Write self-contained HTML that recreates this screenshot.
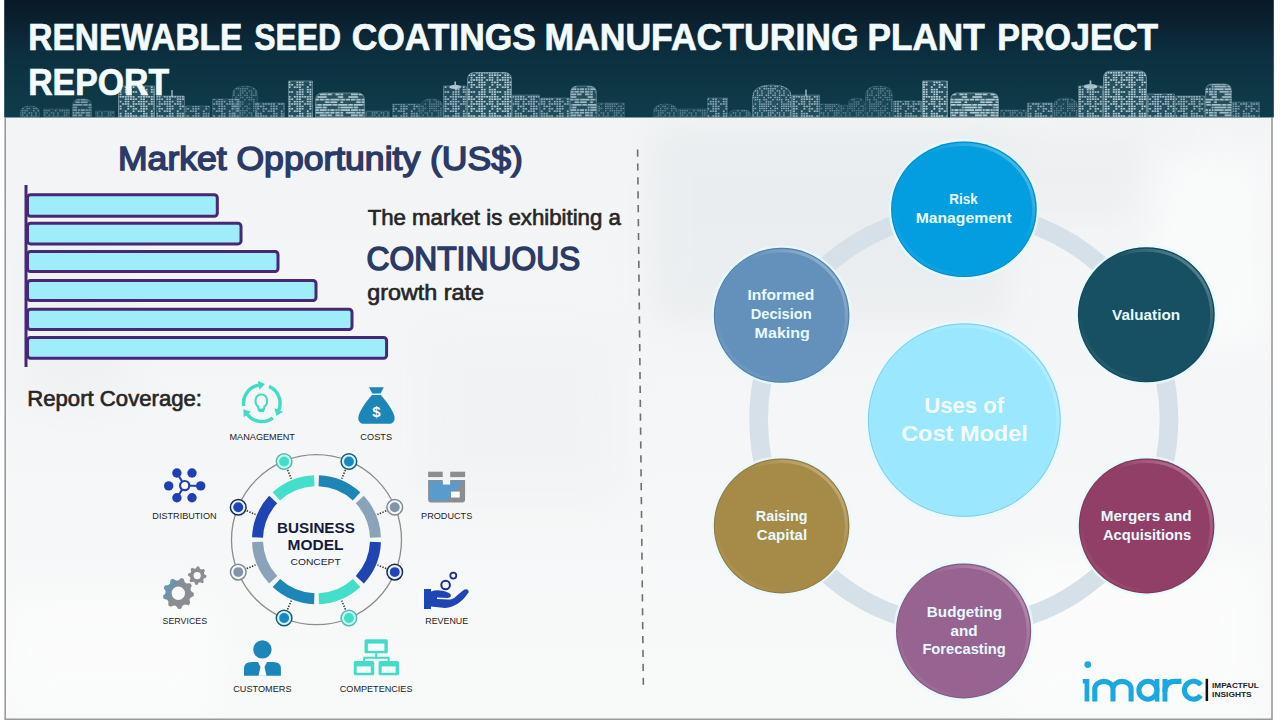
<!DOCTYPE html>
<html><head><meta charset="utf-8"><title>Renewable Seed Coatings Manufacturing Plant Project Report</title>
<style>
html,body{margin:0;padding:0;width:1280px;height:720px;overflow:hidden;background:#fff;}
svg{display:block;font-family:"Liberation Sans",sans-serif;}
</style></head><body>
<svg width="1280" height="720" viewBox="0 0 1280 720">
<defs>
<linearGradient id="hdr" x1="0" y1="0" x2="0" y2="1">
<stop offset="0" stop-color="#0a1826"/><stop offset="0.25" stop-color="#0b2434"/><stop offset="0.45" stop-color="#0c2f3f"/><stop offset="0.7" stop-color="#0d3644"/><stop offset="1" stop-color="#0f3c4a"/>
</linearGradient>
<pattern id="pA" width="26.00" height="24.00" patternUnits="userSpaceOnUse"><rect x="0.00" y="0.00" width="1.90" height="1.60" fill="#cfe2ea"/><rect x="2.60" y="0.00" width="1.90" height="1.60" fill="#cfe2ea"/><rect x="7.80" y="0.00" width="1.90" height="1.60" fill="#cfe2ea"/><rect x="10.40" y="0.00" width="1.90" height="1.60" fill="#cfe2ea"/><rect x="13.00" y="0.00" width="1.90" height="1.60" fill="#cfe2ea"/><rect x="15.60" y="0.00" width="1.90" height="1.60" fill="#cfe2ea"/><rect x="18.20" y="0.00" width="1.90" height="1.60" fill="#cfe2ea"/><rect x="20.80" y="0.00" width="1.90" height="1.60" fill="#cfe2ea"/><rect x="23.40" y="0.00" width="1.90" height="1.60" fill="#cfe2ea"/><rect x="0.00" y="2.40" width="1.90" height="1.60" fill="#cfe2ea"/><rect x="2.60" y="2.40" width="1.90" height="1.60" fill="#cfe2ea"/><rect x="5.20" y="2.40" width="1.90" height="1.60" fill="#cfe2ea"/><rect x="10.40" y="2.40" width="1.90" height="1.60" fill="#cfe2ea"/><rect x="13.00" y="2.40" width="1.90" height="1.60" fill="#cfe2ea"/><rect x="20.80" y="2.40" width="1.90" height="1.60" fill="#cfe2ea"/><rect x="23.40" y="2.40" width="1.90" height="1.60" fill="#cfe2ea"/><rect x="2.60" y="4.80" width="1.90" height="1.60" fill="#cfe2ea"/><rect x="7.80" y="4.80" width="1.90" height="1.60" fill="#cfe2ea"/><rect x="10.40" y="4.80" width="1.90" height="1.60" fill="#cfe2ea"/><rect x="13.00" y="4.80" width="1.90" height="1.60" fill="#cfe2ea"/><rect x="15.60" y="4.80" width="1.90" height="1.60" fill="#cfe2ea"/><rect x="20.80" y="4.80" width="1.90" height="1.60" fill="#cfe2ea"/><rect x="23.40" y="4.80" width="1.90" height="1.60" fill="#cfe2ea"/><rect x="2.60" y="7.20" width="1.90" height="1.60" fill="#cfe2ea"/><rect x="5.20" y="7.20" width="1.90" height="1.60" fill="#cfe2ea"/><rect x="7.80" y="7.20" width="1.90" height="1.60" fill="#cfe2ea"/><rect x="10.40" y="7.20" width="1.90" height="1.60" fill="#cfe2ea"/><rect x="13.00" y="7.20" width="1.90" height="1.60" fill="#cfe2ea"/><rect x="18.20" y="7.20" width="1.90" height="1.60" fill="#cfe2ea"/><rect x="20.80" y="7.20" width="1.90" height="1.60" fill="#cfe2ea"/><rect x="23.40" y="7.20" width="1.90" height="1.60" fill="#cfe2ea"/><rect x="0.00" y="9.60" width="1.90" height="1.60" fill="#cfe2ea"/><rect x="2.60" y="9.60" width="1.90" height="1.60" fill="#cfe2ea"/><rect x="10.40" y="9.60" width="1.90" height="1.60" fill="#cfe2ea"/><rect x="13.00" y="9.60" width="1.90" height="1.60" fill="#cfe2ea"/><rect x="15.60" y="9.60" width="1.90" height="1.60" fill="#cfe2ea"/><rect x="23.40" y="9.60" width="1.90" height="1.60" fill="#cfe2ea"/><rect x="2.60" y="12.00" width="1.90" height="1.60" fill="#cfe2ea"/><rect x="5.20" y="12.00" width="1.90" height="1.60" fill="#cfe2ea"/><rect x="10.40" y="12.00" width="1.90" height="1.60" fill="#cfe2ea"/><rect x="13.00" y="12.00" width="1.90" height="1.60" fill="#cfe2ea"/><rect x="15.60" y="12.00" width="1.90" height="1.60" fill="#cfe2ea"/><rect x="23.40" y="12.00" width="1.90" height="1.60" fill="#cfe2ea"/><rect x="2.60" y="14.40" width="1.90" height="1.60" fill="#cfe2ea"/><rect x="7.80" y="14.40" width="1.90" height="1.60" fill="#cfe2ea"/><rect x="10.40" y="14.40" width="1.90" height="1.60" fill="#cfe2ea"/><rect x="13.00" y="14.40" width="1.90" height="1.60" fill="#cfe2ea"/><rect x="20.80" y="14.40" width="1.90" height="1.60" fill="#cfe2ea"/><rect x="0.00" y="16.80" width="1.90" height="1.60" fill="#cfe2ea"/><rect x="13.00" y="16.80" width="1.90" height="1.60" fill="#cfe2ea"/><rect x="15.60" y="16.80" width="1.90" height="1.60" fill="#cfe2ea"/><rect x="20.80" y="16.80" width="1.90" height="1.60" fill="#cfe2ea"/><rect x="23.40" y="16.80" width="1.90" height="1.60" fill="#cfe2ea"/><rect x="0.00" y="19.20" width="1.90" height="1.60" fill="#cfe2ea"/><rect x="2.60" y="19.20" width="1.90" height="1.60" fill="#cfe2ea"/><rect x="5.20" y="19.20" width="1.90" height="1.60" fill="#cfe2ea"/><rect x="10.40" y="19.20" width="1.90" height="1.60" fill="#cfe2ea"/><rect x="13.00" y="19.20" width="1.90" height="1.60" fill="#cfe2ea"/><rect x="15.60" y="19.20" width="1.90" height="1.60" fill="#cfe2ea"/><rect x="20.80" y="19.20" width="1.90" height="1.60" fill="#cfe2ea"/><rect x="23.40" y="19.20" width="1.90" height="1.60" fill="#cfe2ea"/><rect x="0.00" y="21.60" width="1.90" height="1.60" fill="#cfe2ea"/><rect x="10.40" y="21.60" width="1.90" height="1.60" fill="#cfe2ea"/><rect x="13.00" y="21.60" width="1.90" height="1.60" fill="#cfe2ea"/><rect x="15.60" y="21.60" width="1.90" height="1.60" fill="#cfe2ea"/><rect x="23.40" y="21.60" width="1.90" height="1.60" fill="#cfe2ea"/></pattern><pattern id="pB" width="31.20" height="20.80" patternUnits="userSpaceOnUse"><rect x="0.00" y="0.00" width="4.40" height="1.70" fill="#cfe2ea"/><rect x="5.20" y="0.00" width="4.40" height="1.70" fill="#cfe2ea"/><rect x="10.40" y="0.00" width="9.60" height="1.70" fill="#cfe2ea"/><rect x="20.80" y="0.00" width="4.40" height="1.70" fill="#cfe2ea"/><rect x="26.00" y="0.00" width="7.00" height="1.70" fill="#cfe2ea"/><rect x="0.00" y="2.60" width="9.60" height="1.70" fill="#cfe2ea"/><rect x="10.40" y="2.60" width="4.40" height="1.70" fill="#cfe2ea"/><rect x="26.00" y="2.60" width="1.80" height="1.70" fill="#cfe2ea"/><rect x="28.60" y="2.60" width="9.60" height="1.70" fill="#cfe2ea"/><rect x="0.00" y="5.20" width="7.00" height="1.70" fill="#cfe2ea"/><rect x="7.80" y="5.20" width="7.00" height="1.70" fill="#cfe2ea"/><rect x="15.60" y="5.20" width="1.80" height="1.70" fill="#cfe2ea"/><rect x="18.20" y="5.20" width="4.40" height="1.70" fill="#cfe2ea"/><rect x="23.40" y="5.20" width="1.80" height="1.70" fill="#cfe2ea"/><rect x="26.00" y="5.20" width="1.80" height="1.70" fill="#cfe2ea"/><rect x="28.60" y="5.20" width="9.60" height="1.70" fill="#cfe2ea"/><rect x="2.60" y="7.80" width="9.60" height="1.70" fill="#cfe2ea"/><rect x="13.00" y="7.80" width="4.40" height="1.70" fill="#cfe2ea"/><rect x="18.20" y="7.80" width="4.40" height="1.70" fill="#cfe2ea"/><rect x="23.40" y="7.80" width="4.40" height="1.70" fill="#cfe2ea"/><rect x="28.60" y="7.80" width="7.00" height="1.70" fill="#cfe2ea"/><rect x="7.80" y="10.40" width="7.00" height="1.70" fill="#cfe2ea"/><rect x="15.60" y="10.40" width="4.40" height="1.70" fill="#cfe2ea"/><rect x="23.40" y="10.40" width="4.40" height="1.70" fill="#cfe2ea"/><rect x="28.60" y="10.40" width="4.40" height="1.70" fill="#cfe2ea"/><rect x="5.20" y="13.00" width="9.60" height="1.70" fill="#cfe2ea"/><rect x="26.00" y="13.00" width="9.60" height="1.70" fill="#cfe2ea"/><rect x="0.00" y="15.60" width="1.80" height="1.70" fill="#cfe2ea"/><rect x="2.60" y="15.60" width="4.40" height="1.70" fill="#cfe2ea"/><rect x="7.80" y="15.60" width="4.40" height="1.70" fill="#cfe2ea"/><rect x="13.00" y="15.60" width="4.40" height="1.70" fill="#cfe2ea"/><rect x="18.20" y="15.60" width="9.60" height="1.70" fill="#cfe2ea"/><rect x="28.60" y="15.60" width="4.40" height="1.70" fill="#cfe2ea"/><rect x="13.00" y="18.20" width="4.40" height="1.70" fill="#cfe2ea"/><rect x="18.20" y="18.20" width="7.00" height="1.70" fill="#cfe2ea"/><rect x="28.60" y="18.20" width="4.40" height="1.70" fill="#cfe2ea"/></pattern><pattern id="pC" width="22.00" height="22.00" patternUnits="userSpaceOnUse"><rect x="0.00" y="0.00" width="1.50" height="1.40" fill="#a9c5d1"/><rect x="2.20" y="0.00" width="1.50" height="1.40" fill="#a9c5d1"/><rect x="4.40" y="0.00" width="1.50" height="1.40" fill="#a9c5d1"/><rect x="11.00" y="0.00" width="1.50" height="1.40" fill="#a9c5d1"/><rect x="15.40" y="0.00" width="1.50" height="1.40" fill="#a9c5d1"/><rect x="17.60" y="0.00" width="1.50" height="1.40" fill="#a9c5d1"/><rect x="19.80" y="0.00" width="1.50" height="1.40" fill="#a9c5d1"/><rect x="0.00" y="2.20" width="1.50" height="1.40" fill="#a9c5d1"/><rect x="2.20" y="2.20" width="1.50" height="1.40" fill="#a9c5d1"/><rect x="6.60" y="2.20" width="1.50" height="1.40" fill="#a9c5d1"/><rect x="8.80" y="2.20" width="1.50" height="1.40" fill="#a9c5d1"/><rect x="13.20" y="2.20" width="1.50" height="1.40" fill="#a9c5d1"/><rect x="19.80" y="2.20" width="1.50" height="1.40" fill="#a9c5d1"/><rect x="0.00" y="4.40" width="1.50" height="1.40" fill="#a9c5d1"/><rect x="4.40" y="4.40" width="1.50" height="1.40" fill="#a9c5d1"/><rect x="8.80" y="4.40" width="1.50" height="1.40" fill="#a9c5d1"/><rect x="13.20" y="4.40" width="1.50" height="1.40" fill="#a9c5d1"/><rect x="19.80" y="4.40" width="1.50" height="1.40" fill="#a9c5d1"/><rect x="2.20" y="6.60" width="1.50" height="1.40" fill="#a9c5d1"/><rect x="4.40" y="6.60" width="1.50" height="1.40" fill="#a9c5d1"/><rect x="8.80" y="6.60" width="1.50" height="1.40" fill="#a9c5d1"/><rect x="11.00" y="6.60" width="1.50" height="1.40" fill="#a9c5d1"/><rect x="13.20" y="6.60" width="1.50" height="1.40" fill="#a9c5d1"/><rect x="17.60" y="6.60" width="1.50" height="1.40" fill="#a9c5d1"/><rect x="19.80" y="6.60" width="1.50" height="1.40" fill="#a9c5d1"/><rect x="0.00" y="8.80" width="1.50" height="1.40" fill="#a9c5d1"/><rect x="4.40" y="8.80" width="1.50" height="1.40" fill="#a9c5d1"/><rect x="6.60" y="8.80" width="1.50" height="1.40" fill="#a9c5d1"/><rect x="8.80" y="8.80" width="1.50" height="1.40" fill="#a9c5d1"/><rect x="15.40" y="8.80" width="1.50" height="1.40" fill="#a9c5d1"/><rect x="19.80" y="8.80" width="1.50" height="1.40" fill="#a9c5d1"/><rect x="2.20" y="11.00" width="1.50" height="1.40" fill="#a9c5d1"/><rect x="6.60" y="11.00" width="1.50" height="1.40" fill="#a9c5d1"/><rect x="8.80" y="11.00" width="1.50" height="1.40" fill="#a9c5d1"/><rect x="11.00" y="11.00" width="1.50" height="1.40" fill="#a9c5d1"/><rect x="15.40" y="11.00" width="1.50" height="1.40" fill="#a9c5d1"/><rect x="17.60" y="11.00" width="1.50" height="1.40" fill="#a9c5d1"/><rect x="0.00" y="13.20" width="1.50" height="1.40" fill="#a9c5d1"/><rect x="11.00" y="13.20" width="1.50" height="1.40" fill="#a9c5d1"/><rect x="17.60" y="13.20" width="1.50" height="1.40" fill="#a9c5d1"/><rect x="19.80" y="13.20" width="1.50" height="1.40" fill="#a9c5d1"/><rect x="0.00" y="15.40" width="1.50" height="1.40" fill="#a9c5d1"/><rect x="6.60" y="15.40" width="1.50" height="1.40" fill="#a9c5d1"/><rect x="11.00" y="15.40" width="1.50" height="1.40" fill="#a9c5d1"/><rect x="13.20" y="15.40" width="1.50" height="1.40" fill="#a9c5d1"/><rect x="15.40" y="15.40" width="1.50" height="1.40" fill="#a9c5d1"/><rect x="17.60" y="15.40" width="1.50" height="1.40" fill="#a9c5d1"/><rect x="19.80" y="15.40" width="1.50" height="1.40" fill="#a9c5d1"/><rect x="2.20" y="17.60" width="1.50" height="1.40" fill="#a9c5d1"/><rect x="4.40" y="17.60" width="1.50" height="1.40" fill="#a9c5d1"/><rect x="11.00" y="17.60" width="1.50" height="1.40" fill="#a9c5d1"/><rect x="13.20" y="17.60" width="1.50" height="1.40" fill="#a9c5d1"/><rect x="15.40" y="17.60" width="1.50" height="1.40" fill="#a9c5d1"/><rect x="17.60" y="17.60" width="1.50" height="1.40" fill="#a9c5d1"/><rect x="19.80" y="17.60" width="1.50" height="1.40" fill="#a9c5d1"/><rect x="0.00" y="19.80" width="1.50" height="1.40" fill="#a9c5d1"/><rect x="4.40" y="19.80" width="1.50" height="1.40" fill="#a9c5d1"/><rect x="6.60" y="19.80" width="1.50" height="1.40" fill="#a9c5d1"/><rect x="11.00" y="19.80" width="1.50" height="1.40" fill="#a9c5d1"/><rect x="13.20" y="19.80" width="1.50" height="1.40" fill="#a9c5d1"/><rect x="15.40" y="19.80" width="1.50" height="1.40" fill="#a9c5d1"/><rect x="17.60" y="19.80" width="1.50" height="1.40" fill="#a9c5d1"/></pattern>
<linearGradient id="bgv" x1="0" y1="0" x2="0" y2="1"><stop offset="0" stop-color="#f2f4f5"/><stop offset="0.5" stop-color="#f5f6f7"/><stop offset="1" stop-color="#f8f9f9"/></linearGradient>
<filter id="blr" x="-20%" y="-20%" width="140%" height="140%"><feGaussianBlur stdDeviation="18"/></filter>
<linearGradient id="rim" x1="1" y1="0" x2="0" y2="1">
<stop offset="0.05" stop-color="#fff" stop-opacity="0.35"/><stop offset="0.4" stop-color="#fff" stop-opacity="0"/><stop offset="0.75" stop-color="#fff" stop-opacity="0"/><stop offset="1" stop-color="#fff" stop-opacity="0.15"/>
</linearGradient>
</defs>
<rect x="0" y="0" width="1280" height="720" fill="#ffffff"/>
<rect x="5" y="117" width="1267" height="602" fill="url(#bgv)"/>
<g filter="url(#blr)" opacity="0.5">
<rect x="650" y="125" width="360" height="200" fill="#e3e7ea"/>
<rect x="1010" y="130" width="180" height="90" fill="#e8ebee"/>
<rect x="20" y="230" width="110" height="170" fill="#e9ecee"/>
<rect x="420" y="330" width="200" height="170" fill="#eceff1"/>
<rect x="1010" y="560" width="250" height="150" fill="#ffffff"/>
<rect x="1150" y="150" width="120" height="200" fill="#ffffff"/>
<rect x="10" y="600" width="200" height="110" fill="#ffffff"/>
</g>
<rect x="4.2" y="0" width="1269.6" height="117.5" fill="url(#hdr)"/>
<line x1="5.2" y1="117" x2="5.2" y2="719" stroke="#9a9a9a" stroke-width="1.6"/>
<line x1="1272" y1="117" x2="1272" y2="719" stroke="#9a9a9a" stroke-width="1.6"/>
<line x1="4.4" y1="719.2" x2="1272.8" y2="719.2" stroke="#9a9a9a" stroke-width="1.6"/>
<g><path d="M20.6,117 V112.0 Q20.6,106 30.0,106 Q39.4,106 39.4,112.0 V117 Z" fill="#4a7484" opacity="0.25"/><path d="M20.6,117 V112.0 Q20.6,106 30.0,106 Q39.4,106 39.4,112.0 V117 Z" fill="url(#pC)" opacity="0.51" stroke="#a9c6d2" stroke-width="0.8" stroke-opacity="0.44"/><path d="M43.6,117 V109 H69.4 V117 Z" fill="#4a7484" opacity="0.23"/><path d="M43.6,117 V109 H69.4 V117 Z" fill="url(#pC)" opacity="0.46" stroke="#a9c6d2" stroke-width="0.8" stroke-opacity="0.40"/><path d="M72.6,117 V106 Q72.6,99 79.6,99 H84.4 Q91.4,99 91.4,106 V117 Z" fill="#4a7484" opacity="0.27"/><path d="M72.6,117 V106 Q72.6,99 79.6,99 H84.4 Q91.4,99 91.4,106 V117 Z" fill="url(#pB)" opacity="0.55" stroke="#a9c6d2" stroke-width="0.8" stroke-opacity="0.48"/><path d="M95.6,117 V111 H114.4 V117 Z" fill="#4a7484" opacity="0.23"/><path d="M95.6,117 V111 H114.4 V117 Z" fill="url(#pC)" opacity="0.46" stroke="#a9c6d2" stroke-width="0.8" stroke-opacity="0.40"/><path d="M118.6,117 V86 H154.4 V117 Z" fill="#4a7484" opacity="0.41"/><path d="M118.6,117 V86 H154.4 V117 Z" fill="url(#pA)" opacity="0.83" stroke="#a9c6d2" stroke-width="0.8" stroke-opacity="0.72"/><path d="M156.6,117 V96 H184.4 V117 Z" fill="#4a7484" opacity="0.36"/><path d="M156.6,117 V96 H184.4 V117 Z" fill="url(#pA)" opacity="0.74" stroke="#a9c6d2" stroke-width="0.8" stroke-opacity="0.64"/><path d="M185.6,117 V106 H209.4 V117 Z" fill="#4a7484" opacity="0.27"/><path d="M185.6,117 V106 H209.4 V117 Z" fill="url(#pA)" opacity="0.55" stroke="#a9c6d2" stroke-width="0.8" stroke-opacity="0.48"/><path d="M212.6,117 V99 H239.4 V117 Z" fill="#4a7484" opacity="0.27"/><path d="M212.6,117 V99 H239.4 V117 Z" fill="url(#pA)" opacity="0.55" stroke="#a9c6d2" stroke-width="0.8" stroke-opacity="0.48"/><path d="M232.6,117 V93.8 Q232.6,86 245.0,86 Q257.4,86 257.4,93.8 V117 Z" fill="#4a7484" opacity="0.23"/><path d="M232.6,117 V93.8 Q232.6,86 245.0,86 Q257.4,86 257.4,93.8 V117 Z" fill="url(#pC)" opacity="0.46" stroke="#a9c6d2" stroke-width="0.8" stroke-opacity="0.40"/><path d="M255.6,117 V103 H284.4 V117 Z" fill="#4a7484" opacity="0.27"/><path d="M255.6,117 V103 H284.4 V117 Z" fill="url(#pA)" opacity="0.55" stroke="#a9c6d2" stroke-width="0.8" stroke-opacity="0.48"/><path d="M288.6,117 V81 H312.4 V117 Z" fill="#4a7484" opacity="0.41"/><path d="M288.6,117 V81 H312.4 V117 Z" fill="url(#pA)" opacity="0.83" stroke="#a9c6d2" stroke-width="0.8" stroke-opacity="0.72"/><path d="M315.6,117 V100 Q315.6,93 322.6,93 H357.4 Q364.4,93 364.4,100 V117 Z" fill="#4a7484" opacity="0.41"/><path d="M315.6,117 V100 Q315.6,93 322.6,93 H357.4 Q364.4,93 364.4,100 V117 Z" fill="url(#pB)" opacity="0.83" stroke="#a9c6d2" stroke-width="0.8" stroke-opacity="0.72"/><path d="M365.6,117 V111 H389.4 V117 Z" fill="#4a7484" opacity="0.25"/><path d="M365.6,117 V111 H389.4 V117 Z" fill="url(#pC)" opacity="0.51" stroke="#a9c6d2" stroke-width="0.8" stroke-opacity="0.44"/><path d="M392.6,117 V104 H419.4 V117 Z" fill="#4a7484" opacity="0.27"/><path d="M392.6,117 V104 H419.4 V117 Z" fill="url(#pA)" opacity="0.55" stroke="#a9c6d2" stroke-width="0.8" stroke-opacity="0.48"/><path d="M420.6,117 V105.9 Q420.6,99 431.5,99 Q442.4,99 442.4,105.9 V117 Z" fill="#4a7484" opacity="0.23"/><path d="M420.6,117 V105.9 Q420.6,99 431.5,99 Q442.4,99 442.4,105.9 V117 Z" fill="url(#pC)" opacity="0.46" stroke="#a9c6d2" stroke-width="0.8" stroke-opacity="0.40"/><path d="M443.6,117 V86 H466.4 V117 Z" fill="#4a7484" opacity="0.36"/><path d="M443.6,117 V86 H466.4 V117 Z" fill="url(#pA)" opacity="0.74" stroke="#a9c6d2" stroke-width="0.8" stroke-opacity="0.64"/><path d="M467.6,117 V79.5 Q467.6,72.5 474.6,72.5 H504.4 Q511.4,72.5 511.4,79.5 V117 Z" fill="#4a7484" opacity="0.43"/><path d="M467.6,117 V79.5 Q467.6,72.5 474.6,72.5 H504.4 Q511.4,72.5 511.4,79.5 V117 Z" fill="url(#pA)" opacity="0.87" stroke="#a9c6d2" stroke-width="0.8" stroke-opacity="0.76"/><path d="M512.6,117 V95 H539.4 V117 Z" fill="#4a7484" opacity="0.34"/><path d="M512.6,117 V95 H539.4 V117 Z" fill="url(#pA)" opacity="0.69" stroke="#a9c6d2" stroke-width="0.8" stroke-opacity="0.60"/><path d="M540.6,117 V98 H569.4 V117 Z" fill="#4a7484" opacity="0.32"/><path d="M540.6,117 V98 H569.4 V117 Z" fill="url(#pA)" opacity="0.64" stroke="#a9c6d2" stroke-width="0.8" stroke-opacity="0.56"/><path d="M570.6,117 V93 Q570.6,86 577.6,86 H589.4 Q596.4,86 596.4,93 V117 Z" fill="#4a7484" opacity="0.36"/><path d="M570.6,117 V93 Q570.6,86 577.6,86 H589.4 Q596.4,86 596.4,93 V117 Z" fill="url(#pB)" opacity="0.74" stroke="#a9c6d2" stroke-width="0.8" stroke-opacity="0.64"/><path d="M597.6,117 V103 H624.4 V117 Z" fill="#4a7484" opacity="0.25"/><path d="M597.6,117 V103 H624.4 V117 Z" fill="url(#pC)" opacity="0.51" stroke="#a9c6d2" stroke-width="0.8" stroke-opacity="0.44"/><path d="M653.6,117 V111.5 Q653.6,104 665.5,104 Q677.4,104 677.4,111.5 V117 Z" fill="#4a7484" opacity="0.23"/><path d="M653.6,117 V111.5 Q653.6,104 665.5,104 Q677.4,104 677.4,111.5 V117 Z" fill="url(#pC)" opacity="0.46" stroke="#a9c6d2" stroke-width="0.8" stroke-opacity="0.40"/><path d="M678.6,117 V109 H706.4 V117 Z" fill="#4a7484" opacity="0.23"/><path d="M678.6,117 V109 H706.4 V117 Z" fill="url(#pC)" opacity="0.46" stroke="#a9c6d2" stroke-width="0.8" stroke-opacity="0.40"/><path d="M707.6,117 V98 H727.4 V117 Z" fill="#4a7484" opacity="0.29"/><path d="M707.6,117 V98 H727.4 V117 Z" fill="url(#pA)" opacity="0.60" stroke="#a9c6d2" stroke-width="0.8" stroke-opacity="0.52"/><path d="M728.6,117 V117 Q728.6,110 735.6,110 H744.4 Q751.4,110 751.4,117 V117 Z" fill="#4a7484" opacity="0.25"/><path d="M728.6,117 V117 Q728.6,110 735.6,110 H744.4 Q751.4,110 751.4,117 V117 Z" fill="url(#pC)" opacity="0.51" stroke="#a9c6d2" stroke-width="0.8" stroke-opacity="0.44"/><path d="M752.6,117 V97.0 Q752.6,85 772.0,85 Q791.4,85 791.4,97.0 V117 Z" fill="#4a7484" opacity="0.38"/><path d="M752.6,117 V97.0 Q752.6,85 772.0,85 Q791.4,85 791.4,97.0 V117 Z" fill="url(#pC)" opacity="0.78" stroke="#a9c6d2" stroke-width="0.8" stroke-opacity="0.68"/><path d="M792.6,117 V95 H819.4 V117 Z" fill="#4a7484" opacity="0.34"/><path d="M792.6,117 V95 H819.4 V117 Z" fill="url(#pA)" opacity="0.69" stroke="#a9c6d2" stroke-width="0.8" stroke-opacity="0.60"/><path d="M820.6,117 V104 H839.4 V117 Z" fill="#4a7484" opacity="0.25"/><path d="M820.6,117 V104 H839.4 V117 Z" fill="url(#pC)" opacity="0.51" stroke="#a9c6d2" stroke-width="0.8" stroke-opacity="0.44"/><path d="M840.6,117 V105 H847.4 V117 Z" fill="#4a7484" opacity="0.23"/><path d="M840.6,117 V105 H847.4 V117 Z" fill="url(#pC)" opacity="0.46" stroke="#a9c6d2" stroke-width="0.8" stroke-opacity="0.40"/><path d="M848.6,117 V103.1 Q848.6,98 856.5,98 Q864.4,98 864.4,103.1 V117 Z" fill="#4a7484" opacity="0.20"/><path d="M848.6,117 V103.1 Q848.6,98 856.5,98 Q864.4,98 864.4,103.1 V117 Z" fill="url(#pC)" opacity="0.41" stroke="#a9c6d2" stroke-width="0.8" stroke-opacity="0.36"/><path d="M865.6,117 V94.4 Q865.6,86 879.0,86 Q892.4,86 892.4,94.4 V117 Z" fill="#4a7484" opacity="0.23"/><path d="M865.6,117 V94.4 Q865.6,86 879.0,86 Q892.4,86 892.4,94.4 V117 Z" fill="url(#pC)" opacity="0.46" stroke="#a9c6d2" stroke-width="0.8" stroke-opacity="0.40"/><path d="M893.6,117 V101 H921.4 V117 Z" fill="#4a7484" opacity="0.29"/><path d="M893.6,117 V101 H921.4 V117 Z" fill="url(#pA)" opacity="0.60" stroke="#a9c6d2" stroke-width="0.8" stroke-opacity="0.52"/><path d="M922.6,117 V81 H947.4 V117 Z" fill="#4a7484" opacity="0.43"/><path d="M922.6,117 V81 H947.4 V117 Z" fill="url(#pA)" opacity="0.87" stroke="#a9c6d2" stroke-width="0.8" stroke-opacity="0.76"/><path d="M950.6,117 V100 Q950.6,93 957.6,93 H991.4 Q998.4,93 998.4,100 V117 Z" fill="#4a7484" opacity="0.43"/><path d="M950.6,117 V100 Q950.6,93 957.6,93 H991.4 Q998.4,93 998.4,100 V117 Z" fill="url(#pB)" opacity="0.87" stroke="#a9c6d2" stroke-width="0.8" stroke-opacity="0.76"/><path d="M1000.6,117 V110 H1026.4 V117 Z" fill="#4a7484" opacity="0.25"/><path d="M1000.6,117 V110 H1026.4 V117 Z" fill="url(#pC)" opacity="0.51" stroke="#a9c6d2" stroke-width="0.8" stroke-opacity="0.44"/><path d="M1027.6,117 V103 H1052.4 V117 Z" fill="#4a7484" opacity="0.32"/><path d="M1027.6,117 V103 H1052.4 V117 Z" fill="url(#pA)" opacity="0.64" stroke="#a9c6d2" stroke-width="0.8" stroke-opacity="0.56"/><path d="M1053.6,117 V105.5 Q1053.6,98 1065.5,98 Q1077.4,98 1077.4,105.5 V117 Z" fill="#4a7484" opacity="0.23"/><path d="M1053.6,117 V105.5 Q1053.6,98 1065.5,98 Q1077.4,98 1077.4,105.5 V117 Z" fill="url(#pC)" opacity="0.46" stroke="#a9c6d2" stroke-width="0.8" stroke-opacity="0.40"/><path d="M1078.6,117 V86 H1102.4 V117 Z" fill="#4a7484" opacity="0.38"/><path d="M1078.6,117 V86 H1102.4 V117 Z" fill="url(#pA)" opacity="0.78" stroke="#a9c6d2" stroke-width="0.8" stroke-opacity="0.68"/><path d="M1103.6,117 V78 Q1103.6,71 1110.6,71 H1139.4 Q1146.4,71 1146.4,78 V117 Z" fill="#4a7484" opacity="0.43"/><path d="M1103.6,117 V78 Q1103.6,71 1110.6,71 H1139.4 Q1146.4,71 1146.4,78 V117 Z" fill="url(#pA)" opacity="0.87" stroke="#a9c6d2" stroke-width="0.8" stroke-opacity="0.76"/><path d="M1147.6,117 V94 H1174.4 V117 Z" fill="#4a7484" opacity="0.38"/><path d="M1147.6,117 V94 H1174.4 V117 Z" fill="url(#pA)" opacity="0.78" stroke="#a9c6d2" stroke-width="0.8" stroke-opacity="0.68"/><path d="M1175.6,117 V96 H1204.4 V117 Z" fill="#4a7484" opacity="0.34"/><path d="M1175.6,117 V96 H1204.4 V117 Z" fill="url(#pA)" opacity="0.69" stroke="#a9c6d2" stroke-width="0.8" stroke-opacity="0.60"/><path d="M1205.6,117 V91 Q1205.6,84 1212.6,84 H1224.4 Q1231.4,84 1231.4,91 V117 Z" fill="#4a7484" opacity="0.38"/><path d="M1205.6,117 V91 Q1205.6,84 1212.6,84 H1224.4 Q1231.4,84 1231.4,91 V117 Z" fill="url(#pB)" opacity="0.78" stroke="#a9c6d2" stroke-width="0.8" stroke-opacity="0.68"/><path d="M1232.6,117 V102 H1259.4 V117 Z" fill="#4a7484" opacity="0.27"/><path d="M1232.6,117 V102 H1259.4 V117 Z" fill="url(#pA)" opacity="0.55" stroke="#a9c6d2" stroke-width="0.8" stroke-opacity="0.48"/></g>
<g fill="#b9d2dc" opacity="0.85"><rect x="171.3" y="90" width="1.4" height="7"/><rect x="805.3" y="89.5" width="1.4" height="6.5"/><rect x="1089.6" y="80.5" width="1.8" height="6"/><rect x="454.4" y="81.5" width="1.6" height="5"/><ellipse cx="455.2" cy="87" rx="6" ry="2.2"/><ellipse cx="1090.5" cy="86.5" rx="7" ry="2.5"/></g>
<text x="28.20" y="50.00" font-size="36.3" font-weight="700" fill="#f4fbfd" textLength="214.28" lengthAdjust="spacingAndGlyphs" stroke="#f4fbfd" stroke-width="0.7">RENEWABLE</text>
<text x="254.20" y="50.00" font-size="36.3" font-weight="700" fill="#f4fbfd" textLength="86.91" lengthAdjust="spacingAndGlyphs" stroke="#f4fbfd" stroke-width="0.7">SEED</text>
<text x="351.69" y="50.00" font-size="36.3" font-weight="700" fill="#f4fbfd" textLength="184.24" lengthAdjust="spacingAndGlyphs" stroke="#f4fbfd" stroke-width="0.7">COATINGS</text>
<text x="544.38" y="50.00" font-size="36.3" font-weight="700" fill="#f4fbfd" textLength="314.33" lengthAdjust="spacingAndGlyphs" stroke="#f4fbfd" stroke-width="0.7">MANUFACTURING</text>
<text x="867.50" y="50.00" font-size="36.3" font-weight="700" fill="#f4fbfd" textLength="117.25" lengthAdjust="spacingAndGlyphs" stroke="#f4fbfd" stroke-width="0.7">PLANT</text>
<text x="997.17" y="50.00" font-size="36.3" font-weight="700" fill="#f4fbfd" textLength="160.98" lengthAdjust="spacingAndGlyphs" stroke="#f4fbfd" stroke-width="0.7">PROJECT</text>
<text x="28.19" y="94.75" font-size="36.3" font-weight="700" fill="#f4fbfd" textLength="140.96" lengthAdjust="spacingAndGlyphs" stroke="#f4fbfd" stroke-width="0.7">REPORT</text>
<text x="118.02" y="169.70" font-size="33.6" font-weight="400" fill="#2b3a67" textLength="404.82" lengthAdjust="spacingAndGlyphs" stroke="#2b3a67" stroke-width="1.5">Market Opportunity (US$)</text>
<rect x="27.5" y="194.8" width="189.8" height="21.4" rx="3" fill="#9fecfb" stroke="#472877" stroke-width="3"/>
<rect x="27.5" y="223.2" width="213.5" height="20.7" rx="3" fill="#9fecfb" stroke="#472877" stroke-width="3"/>
<rect x="27.5" y="251.5" width="250.5" height="20.1" rx="3" fill="#9fecfb" stroke="#472877" stroke-width="3"/>
<rect x="27.5" y="280.5" width="288.5" height="20.1" rx="3" fill="#9fecfb" stroke="#472877" stroke-width="3"/>
<rect x="27.5" y="309.2" width="324.5" height="20.4" rx="3" fill="#9fecfb" stroke="#472877" stroke-width="3"/>
<rect x="27.5" y="337.5" width="359.1" height="20.7" rx="3" fill="#9fecfb" stroke="#472877" stroke-width="3"/>
<rect x="24.5" y="185" width="3" height="182" fill="#472877"/>
<text x="367.65" y="224.80" font-size="21.6" font-weight="400" fill="#262626" textLength="253.21" lengthAdjust="spacingAndGlyphs" stroke="#262626" stroke-width="0.65">The market is exhibiting a</text>
<text x="366.51" y="269.80" font-size="33" font-weight="400" fill="#2b3a67" textLength="213.83" lengthAdjust="spacingAndGlyphs" stroke="#2b3a67" stroke-width="1.5">CONTINUOUS</text>
<text x="367.27" y="300.40" font-size="21.6" font-weight="400" fill="#262626" textLength="116.67" lengthAdjust="spacingAndGlyphs" stroke="#262626" stroke-width="0.65">growth rate</text>
<text x="27.27" y="406.00" font-size="22" font-weight="400" fill="#262626" textLength="174.73" lengthAdjust="spacingAndGlyphs" stroke="#262626" stroke-width="0.65">Report Coverage:</text>
<line x1="637.6" y1="149.5" x2="643.4" y2="690" stroke="#6f6f6f" stroke-width="1.6" stroke-dasharray="7.2 6.7"/>
<circle cx="316.5" cy="539.7" r="85" fill="none" stroke="#8c8c8c" stroke-width="1.3"/>
<path d="M314.24,480.74 A59,59 0 0 0 276.41,496.41" fill="none" stroke="#44dfca" stroke-width="11"/>
<path d="M356.59,496.41 A59,59 0 0 0 318.76,480.74" fill="none" stroke="#1d86b6" stroke-width="11"/>
<path d="M375.46,537.44 A59,59 0 0 0 359.79,499.61" fill="none" stroke="#8aa3b8" stroke-width="11"/>
<path d="M359.79,579.79 A59,59 0 0 0 375.46,541.96" fill="none" stroke="#1f45b2" stroke-width="11"/>
<path d="M318.76,598.66 A59,59 0 0 0 356.59,582.99" fill="none" stroke="#44dfca" stroke-width="11"/>
<path d="M276.41,582.99 A59,59 0 0 0 314.24,598.66" fill="none" stroke="#1d86b6" stroke-width="11"/>
<path d="M257.54,541.96 A59,59 0 0 0 273.21,579.79" fill="none" stroke="#8aa3b8" stroke-width="11"/>
<path d="M273.21,499.61 A59,59 0 0 0 257.54,537.44" fill="none" stroke="#1f45b2" stroke-width="11"/>
<line x1="287.61" y1="469.95" x2="291.24" y2="478.72" stroke="#333" stroke-width="1.6" stroke-dasharray="1.4 1.4"/>
<circle cx="284.09" cy="461.45" r="7.8" fill="#c8f8f6" stroke="#58b8b0" stroke-width="1.5"/>
<circle cx="284.09" cy="461.45" r="4.95" fill="#3ee0c8"/>
<line x1="345.39" y1="469.95" x2="341.76" y2="478.72" stroke="#333" stroke-width="1.6" stroke-dasharray="1.4 1.4"/>
<circle cx="348.91" cy="461.45" r="7.8" fill="#d0f4fa" stroke="#1b5d70" stroke-width="1.5"/>
<circle cx="348.91" cy="461.45" r="4.95" fill="#1a88c0"/>
<line x1="386.25" y1="510.81" x2="377.48" y2="514.44" stroke="#333" stroke-width="1.6" stroke-dasharray="1.4 1.4"/>
<circle cx="394.75" cy="507.29" r="7.8" fill="#f4f8fa" stroke="#838a92" stroke-width="1.5"/>
<circle cx="394.75" cy="507.29" r="4.95" fill="#8095a8"/>
<line x1="386.25" y1="568.59" x2="377.48" y2="564.96" stroke="#333" stroke-width="1.6" stroke-dasharray="1.4 1.4"/>
<circle cx="394.75" cy="572.11" r="7.8" fill="#e4f6fb" stroke="#1c2752" stroke-width="1.5"/>
<circle cx="394.75" cy="572.11" r="4.95" fill="#2242b8"/>
<line x1="345.39" y1="609.45" x2="341.76" y2="600.68" stroke="#333" stroke-width="1.6" stroke-dasharray="1.4 1.4"/>
<circle cx="348.91" cy="617.95" r="7.8" fill="#c8f8f6" stroke="#58b8b0" stroke-width="1.5"/>
<circle cx="348.91" cy="617.95" r="4.95" fill="#3ee0c8"/>
<line x1="287.61" y1="609.45" x2="291.24" y2="600.68" stroke="#333" stroke-width="1.6" stroke-dasharray="1.4 1.4"/>
<circle cx="284.09" cy="617.95" r="7.8" fill="#d0f4fa" stroke="#1b5d70" stroke-width="1.5"/>
<circle cx="284.09" cy="617.95" r="4.95" fill="#1a88c0"/>
<line x1="246.75" y1="568.59" x2="255.52" y2="564.96" stroke="#333" stroke-width="1.6" stroke-dasharray="1.4 1.4"/>
<circle cx="238.25" cy="572.11" r="7.8" fill="#f4f8fa" stroke="#838a92" stroke-width="1.5"/>
<circle cx="238.25" cy="572.11" r="4.95" fill="#8095a8"/>
<line x1="246.75" y1="510.81" x2="255.52" y2="514.44" stroke="#333" stroke-width="1.6" stroke-dasharray="1.4 1.4"/>
<circle cx="238.25" cy="507.29" r="7.8" fill="#e4f6fb" stroke="#1c2752" stroke-width="1.5"/>
<circle cx="238.25" cy="507.29" r="4.95" fill="#2242b8"/>
<text x="277.05" y="533.00" font-size="14.5" font-weight="700" fill="#161b3a" textLength="77.75" lengthAdjust="spacingAndGlyphs" >BUSINESS</text>
<text x="287.63" y="550.30" font-size="14.5" font-weight="700" fill="#161b3a" textLength="55.93" lengthAdjust="spacingAndGlyphs" >MODEL</text>
<text x="290.52" y="565.00" font-size="9.8" font-weight="400" fill="#161b3a" textLength="50.16" lengthAdjust="spacingAndGlyphs" >CONCEPT</text>
<text x="229.49" y="439.60" font-size="8.9" font-weight="400" fill="#222" textLength="65.47" lengthAdjust="spacingAndGlyphs" >MANAGEMENT</text>
<text x="360.37" y="439.80" font-size="8.9" font-weight="400" fill="#222" textLength="31.72" lengthAdjust="spacingAndGlyphs" >COSTS</text>
<text x="152.39" y="518.70" font-size="8.9" font-weight="400" fill="#222" textLength="64.15" lengthAdjust="spacingAndGlyphs" >DISTRIBUTION</text>
<text x="421.09" y="518.70" font-size="8.9" font-weight="400" fill="#222" textLength="51.20" lengthAdjust="spacingAndGlyphs" >PRODUCTS</text>
<text x="162.52" y="624.40" font-size="8.9" font-weight="400" fill="#222" textLength="44.55" lengthAdjust="spacingAndGlyphs" >SERVICES</text>
<text x="425.31" y="624.40" font-size="8.9" font-weight="400" fill="#222" textLength="42.87" lengthAdjust="spacingAndGlyphs" >REVENUE</text>
<text x="233.27" y="691.70" font-size="8.9" font-weight="400" fill="#222" textLength="58.21" lengthAdjust="spacingAndGlyphs" >CUSTOMERS</text>
<text x="339.77" y="691.70" font-size="8.9" font-weight="400" fill="#222" textLength="72.71" lengthAdjust="spacingAndGlyphs" >COMPETENCIES</text>
<path d="M243.73,406.06 A18.3,18.3 0 0 1 258.94,385.13" fill="none" stroke="#40dcc4" stroke-width="3.4"/>
<path d="M265.02,384.05 L257.82,380.65 L259.42,389.71 Z" fill="#40dcc4"/>
<path d="M268.95,386.35 A18.3,18.3 0 0 1 278.65,410.35" fill="none" stroke="#40dcc4" stroke-width="3.4"/>
<path d="M276.33,416.08 L283.03,411.78 L274.50,408.33 Z" fill="#40dcc4"/>
<path d="M272.81,417.82 A18.3,18.3 0 0 1 247.18,414.21" fill="none" stroke="#40dcc4" stroke-width="3.4"/>
<path d="M243.38,409.34 L243.75,417.30 L251.00,411.63 Z" fill="#40dcc4"/>
<path d="M258.6,409.5 L258.2,406.5 C254,403.8 254.5,394.5 261.3,394.5 C268.1,394.5 268.6,403.8 264.4,406.5 L264,409.5 Z" fill="none" stroke="#40dcc4" stroke-width="2"/>
<rect x="258.6" y="409" width="5.4" height="3" fill="#40dcc4"/>
<path d="M369,387.3 H383.8 L380.5,393.5 H372.3 Z" fill="#1c86b8"/>
<path d="M372,395 H380.8 C386,401 394.6,412 394.6,418 C394.6,421.5 392.5,423.8 389,423.8 H364 C360.5,423.8 358.3,421.5 358.3,418 C358.3,412 366.5,401 372,395 Z" fill="#1c86b8"/>
<text x="376.5" y="417" font-size="15" font-weight="700" fill="#fff" text-anchor="middle">$</text>
<circle cx="176.9" cy="473" r="4.7" fill="#1f3fb2"/>
<circle cx="192" cy="473" r="4.7" fill="#1f3fb2"/>
<circle cx="168.7" cy="485.9" r="4.7" fill="#1f3fb2"/>
<circle cx="200.7" cy="485.9" r="4.7" fill="#1f3fb2"/>
<circle cx="176.9" cy="497.8" r="4.7" fill="#1f3fb2"/>
<circle cx="192" cy="497.8" r="4.7" fill="#1f3fb2"/>
<line x1="184.7" y1="485.6" x2="176.9" y2="473" stroke="#1f3fb2" stroke-width="2"/>
<line x1="184.7" y1="485.6" x2="200.7" y2="485.9" stroke="#1f3fb2" stroke-width="2"/>
<line x1="184.7" y1="485.6" x2="176.9" y2="497.8" stroke="#1f3fb2" stroke-width="2"/>
<circle cx="184.7" cy="485.6" r="4.6" fill="#fff" stroke="#1f3fb2" stroke-width="2.2"/>
<rect x="428.1" y="471.7" width="14.6" height="5.4" fill="#8a8d92"/>
<rect x="450.2" y="471.7" width="14.9" height="5.4" fill="#8a8d92"/>
<path d="M428.1,479.9 H442.7 V484.8 H450.2 V479.9 H465.1 V500 Q465.1,502.4 462.7,502.4 H430.5 Q428.1,502.4 428.1,500 Z" fill="#8a8d92"/>
<path d="M430,481.5 H442.7 V484.8 H450.2 V481.5 H463 L447,500.5 H430 Z" fill="#5a9bcc"/>
<rect x="451" y="491.6" width="8.7" height="5.9" fill="#fff"/>
<defs><linearGradient id="gg" x1="0" y1="0.2" x2="1" y2="0.8"><stop offset="0" stop-color="#5aa4b6"/><stop offset="0.28" stop-color="#7391a8"/><stop offset="0.42" stop-color="#8a8d92"/><stop offset="1" stop-color="#8a8d92"/></linearGradient></defs>
<path d="M193.90,593.30 L193.66,596.01 L190.42,597.71 L189.47,599.75 L190.25,603.33 L188.33,605.25 L184.75,604.47 L182.71,605.42 L181.01,608.66 L178.30,608.90 L176.06,606.00 L173.89,605.42 L170.50,606.81 L168.27,605.25 L168.42,601.59 L167.13,599.75 L163.64,598.64 L162.94,596.01 L165.40,593.30 L165.60,591.06 L163.64,587.96 L164.79,585.50 L168.42,585.01 L170.01,583.42 L170.50,579.79 L172.96,578.64 L176.06,580.60 L178.30,580.40 L181.01,577.94 L183.64,578.64 L184.75,582.13 L186.59,583.42 L190.25,583.27 L191.81,585.50 L190.42,588.89 L191.00,591.06 Z M185.00,593.30 A6.7,6.7 0 1 0 171.60,593.30 A6.7,6.7 0 1 0 185.00,593.30 Z" fill="url(#gg)" fill-rule="evenodd"/>
<path d="M206.50,575.60 L206.32,577.41 L203.94,578.39 L203.27,579.66 L203.78,582.18 L202.37,583.33 L199.99,582.34 L198.62,582.76 L197.20,584.90 L195.39,584.72 L194.41,582.34 L193.14,581.67 L190.62,582.18 L189.47,580.77 L190.46,578.39 L190.04,577.02 L187.90,575.60 L188.08,573.79 L190.46,572.81 L191.13,571.54 L190.62,569.02 L192.03,567.87 L194.41,568.86 L195.78,568.44 L197.20,566.30 L199.01,566.48 L199.99,568.86 L201.26,569.53 L203.78,569.02 L204.93,570.43 L203.94,572.81 L204.36,574.18 Z M200.80,575.60 A3.6,3.6 0 1 0 193.60,575.60 A3.6,3.6 0 1 0 200.80,575.60 Z" fill="#8a8d92" fill-rule="evenodd"/>
<path d="M424,589 H431 V591.5 C436,589.5 442,590 448,592.5 C452,594 452,597.5 447.5,598 L437,597.5 L437,599 L448.5,599.5 C453,599.5 455,597.5 457,595.5 L463,590.5 C466,588 469.5,589.5 468.5,592.5 C463,601 455,607.5 445,608 L431,606.5 V609 H424 Z" fill="#1f45b5"/>
<circle cx="445.6" cy="585" r="4.3" fill="none" stroke="#1c2f8c" stroke-width="2"/>
<circle cx="453.3" cy="575.6" r="3" fill="none" stroke="#1c2f8c" stroke-width="1.8"/>
<circle cx="262.4" cy="649.4" r="9.2" fill="#1c86b8"/>
<path d="M244,675.7 V668 Q244,662 252,662 H272.9 Q280.9,662 280.9,668 V675.7 Z" fill="#1c86b8"/>
<path d="M258,662 H267 L264.5,667 L266.5,675.7 H258.5 L260.5,667 Z" fill="#fff"/>
<rect x="364.5" y="639.2" width="23.30" height="14.10" rx="1.5" fill="#44dcc8"/>
<rect x="367.9" y="643.6" width="16.50" height="7.30" fill="#f6fbfb"/>
<rect x="353.8" y="661.1" width="20.40" height="14.10" rx="1.5" fill="#44dcc8"/>
<rect x="356.7" y="666.4" width="14.10" height="6.40" fill="#f6fbfb"/>
<rect x="378.6" y="661.1" width="20.40" height="14.10" rx="1.5" fill="#44dcc8"/>
<rect x="381.6" y="666.4" width="14.00" height="6.40" fill="#f6fbfb"/>
<path d="M376.2,653 V657.7 M363.2,657.7 H389.6 M364.2,656.7 V661.5 M388.6,656.7 V661.5" fill="none" stroke="#44dcc8" stroke-width="2"/>
<ellipse cx="963.8" cy="419.5" rx="205.2" ry="207" fill="none" stroke="#d6e0e8" stroke-width="18.6"/>
<ellipse cx="963.9" cy="209.3" rx="74.0" ry="69.0" fill="none" stroke="#e4fbff" stroke-width="2.4" opacity="0.8"/>
<ellipse cx="963.9" cy="209.3" rx="72.8" ry="67.8" fill="#039ee0"/>
<ellipse cx="963.9" cy="209.3" rx="69.8" ry="64.8" fill="none" stroke="url(#rim)" stroke-width="3"/>
<ellipse cx="963.9" cy="209.3" rx="72.3" ry="67.3" fill="none" stroke="#000" stroke-opacity="0.12" stroke-width="1"/>
<ellipse cx="781.6" cy="315.3" rx="69.0" ry="68.7" fill="none" stroke="#e4fbff" stroke-width="2.4" opacity="0.8"/>
<ellipse cx="781.6" cy="315.3" rx="67.8" ry="67.5" fill="#6491bb"/>
<ellipse cx="781.6" cy="315.3" rx="64.8" ry="64.5" fill="none" stroke="url(#rim)" stroke-width="3"/>
<ellipse cx="781.6" cy="315.3" rx="67.3" ry="67.0" fill="none" stroke="#000" stroke-opacity="0.12" stroke-width="1"/>
<ellipse cx="1146.3" cy="314.75" rx="69.60000000000001" ry="68.8" fill="none" stroke="#e4fbff" stroke-width="2.4" opacity="0.8"/>
<ellipse cx="1146.3" cy="314.75" rx="68.4" ry="67.6" fill="#165062"/>
<ellipse cx="1146.3" cy="314.75" rx="65.4" ry="64.6" fill="none" stroke="url(#rim)" stroke-width="3"/>
<ellipse cx="1146.3" cy="314.75" rx="67.9" ry="67.1" fill="none" stroke="#000" stroke-opacity="0.12" stroke-width="1"/>
<ellipse cx="964.3" cy="420.1" rx="97.7" ry="98.05" fill="none" stroke="#e4fbff" stroke-width="2.4" opacity="0.8"/>
<ellipse cx="964.3" cy="420.1" rx="96.5" ry="96.85" fill="#9ae7fe"/>
<ellipse cx="964.3" cy="420.1" rx="93.5" ry="93.85" fill="none" stroke="url(#rim)" stroke-width="3"/>
<ellipse cx="964.3" cy="420.1" rx="96.0" ry="96.35" fill="none" stroke="#000" stroke-opacity="0.12" stroke-width="1"/>
<ellipse cx="781.6" cy="525.9" rx="69.0" ry="68.7" fill="none" stroke="#e4fbff" stroke-width="2.4" opacity="0.8"/>
<ellipse cx="781.6" cy="525.9" rx="67.8" ry="67.5" fill="#a68a48"/>
<ellipse cx="781.6" cy="525.9" rx="64.8" ry="64.5" fill="none" stroke="url(#rim)" stroke-width="3"/>
<ellipse cx="781.6" cy="525.9" rx="67.3" ry="67.0" fill="none" stroke="#000" stroke-opacity="0.12" stroke-width="1"/>
<ellipse cx="1146.6" cy="525.9" rx="69.0" ry="68.7" fill="none" stroke="#e4fbff" stroke-width="2.4" opacity="0.8"/>
<ellipse cx="1146.6" cy="525.9" rx="67.8" ry="67.5" fill="#913f66"/>
<ellipse cx="1146.6" cy="525.9" rx="64.8" ry="64.5" fill="none" stroke="url(#rim)" stroke-width="3"/>
<ellipse cx="1146.6" cy="525.9" rx="67.3" ry="67.0" fill="none" stroke="#000" stroke-opacity="0.12" stroke-width="1"/>
<ellipse cx="963.6" cy="630.9" rx="68.8" ry="68.7" fill="none" stroke="#e4fbff" stroke-width="2.4" opacity="0.8"/>
<ellipse cx="963.6" cy="630.9" rx="67.6" ry="67.5" fill="#976391"/>
<ellipse cx="963.6" cy="630.9" rx="64.6" ry="64.5" fill="none" stroke="url(#rim)" stroke-width="3"/>
<ellipse cx="963.6" cy="630.9" rx="67.1" ry="67.0" fill="none" stroke="#000" stroke-opacity="0.12" stroke-width="1"/>
<text x="949.15" y="204.40" font-size="15" font-weight="700" fill="#e8faff" textLength="28.56" lengthAdjust="spacingAndGlyphs" >Risk</text>
<text x="915.72" y="223.30" font-size="15" font-weight="700" fill="#e8faff" textLength="95.96" lengthAdjust="spacingAndGlyphs" >Management</text>
<text x="747.42" y="299.90" font-size="15" font-weight="700" fill="#e8faff" textLength="66.88" lengthAdjust="spacingAndGlyphs" >Informed</text>
<text x="750.68" y="319.00" font-size="15" font-weight="700" fill="#e8faff" textLength="61.02" lengthAdjust="spacingAndGlyphs" >Decision</text>
<text x="754.60" y="337.70" font-size="15" font-weight="700" fill="#e8faff" textLength="55.33" lengthAdjust="spacingAndGlyphs" >Making</text>
<text x="1112.10" y="319.70" font-size="15" font-weight="700" fill="#e8faff" textLength="68.04" lengthAdjust="spacingAndGlyphs" >Valuation</text>
<text x="924.16" y="412.70" font-size="22.5" font-weight="700" fill="#f4fcff" textLength="80.10" lengthAdjust="spacingAndGlyphs" >Uses of</text>
<text x="901.17" y="441.00" font-size="22.5" font-weight="700" fill="#f4fcff" textLength="126.62" lengthAdjust="spacingAndGlyphs" >Cost Model</text>
<text x="755.80" y="521.10" font-size="15" font-weight="700" fill="#e8faff" textLength="51.81" lengthAdjust="spacingAndGlyphs" >Raising</text>
<text x="756.83" y="540.00" font-size="15" font-weight="700" fill="#e8faff" textLength="50.26" lengthAdjust="spacingAndGlyphs" >Capital</text>
<text x="1100.75" y="521.10" font-size="15" font-weight="700" fill="#e8faff" textLength="90.83" lengthAdjust="spacingAndGlyphs" >Mergers and</text>
<text x="1102.97" y="540.00" font-size="15" font-weight="700" fill="#e8faff" textLength="88.23" lengthAdjust="spacingAndGlyphs" >Acquisitions</text>
<text x="926.85" y="616.70" font-size="15" font-weight="700" fill="#e8faff" textLength="75.22" lengthAdjust="spacingAndGlyphs" >Budgeting</text>
<text x="950.46" y="635.60" font-size="15" font-weight="700" fill="#e8faff" textLength="27.22" lengthAdjust="spacingAndGlyphs" >and</text>
<text x="922.38" y="654.40" font-size="15" font-weight="700" fill="#e8faff" textLength="83.46" lengthAdjust="spacingAndGlyphs" >Forecasting</text>
<circle cx="1087.8" cy="664.6" r="3.4" fill="#1ba8e0"/>
<path d="M1082.8,679 H1089.3 V701.6 H1084.6 V683.6 H1082.8 Z" fill="#1ba8e0"/>
<path d="M1094.8,701.6 V689 A9.1,7.6 0 0 1 1113,689 V701.6 M1113,689 A9.05,7.6 0 0 1 1131.1,689 V701.6" fill="none" stroke="#1ba8e0" stroke-width="5.1"/>
<circle cx="1147.9" cy="690.2" r="9.0" fill="none" stroke="#1ba8e0" stroke-width="5.1"/>
<rect x="1154.8" y="679" width="4.6" height="22.6" fill="#1ba8e0"/>
<rect x="1162.5" y="679" width="4.9" height="22.6" fill="#1ba8e0"/>
<path d="M1164.9,692 Q1164.9,681.4 1175,681.4 H1181.5" fill="none" stroke="#1ba8e0" stroke-width="5.1"/>
<path d="M1200.78,684.91 A9.0,9.0 0 1 0 1200.78,695.49" fill="none" stroke="#1ba8e0" stroke-width="5.1"/>
<rect x="1205.6" y="678.8" width="2.5" height="22.2" fill="#111"/>
<text x="1212.09" y="688.00" font-size="7.2" font-weight="700" fill="#222" textLength="46.65" lengthAdjust="spacingAndGlyphs" >IMPACTFUL</text>
<text x="1212.08" y="697.00" font-size="7.2" font-weight="700" fill="#222" textLength="39.65" lengthAdjust="spacingAndGlyphs" >INSIGHTS</text>
</svg>
</body></html>
